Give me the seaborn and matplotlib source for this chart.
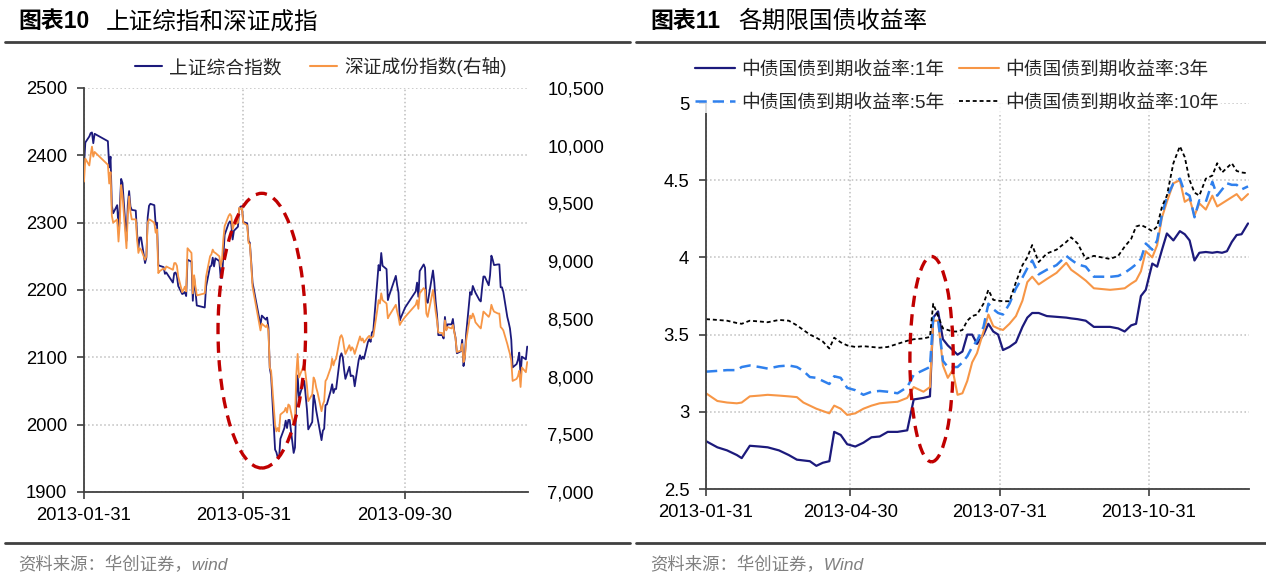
import matplotlib
matplotlib.use("Agg")
import matplotlib.pyplot as plt
import matplotlib.dates as mdates
from matplotlib.patches import Ellipse
from matplotlib.lines import Line2D
from matplotlib.ticker import FuncFormatter, MultipleLocator, FixedLocator
import seaborn as sns
import pandas as pd

# ---------------- data: left chart (index levels) ----------------
idx_dates = [
    "01-31", "02-01", "02-04", "02-05", "02-06", "02-07", "02-08", "02-18", "02-19", "02-20",
    "02-21", "02-22", "02-25", "02-26", "02-27", "02-28", "03-01", "03-04", "03-05", "03-06",
    "03-07", "03-08", "03-11", "03-12", "03-13", "03-14", "03-15", "03-18", "03-19", "03-20",
    "03-21", "03-22", "03-25", "03-26", "03-27", "03-28", "03-29", "04-01", "04-02", "04-03",
    "04-08", "04-09", "04-10", "04-11", "04-12", "04-15", "04-16", "04-17", "04-18", "04-19",
    "04-22", "04-23", "04-24", "04-25", "04-26", "05-02", "05-03", "05-06", "05-07", "05-08",
    "05-09", "05-10", "05-13", "05-14", "05-15", "05-16", "05-17", "05-20", "05-21", "05-22",
    "05-23", "05-24", "05-27", "05-28", "05-29", "05-30", "05-31", "06-03", "06-04", "06-05",
    "06-06", "06-07", "06-13", "06-14", "06-17", "06-18", "06-19", "06-20", "06-21", "06-24",
    "06-25", "06-26", "06-27", "06-28", "07-01", "07-02", "07-03", "07-04", "07-05", "07-08",
    "07-09", "07-10", "07-11", "07-12", "07-15", "07-16", "07-17", "07-18", "07-19", "07-22",
    "07-23", "07-24", "07-25", "07-26", "07-29", "07-30", "07-31", "08-01", "08-02", "08-05",
    "08-06", "08-07", "08-08", "08-09", "08-12", "08-13", "08-14", "08-15", "08-16", "08-19",
    "08-20", "08-21", "08-22", "08-23", "08-26", "08-27", "08-28", "08-29", "08-30", "09-02",
    "09-03", "09-04", "09-05", "09-06", "09-09", "09-10", "09-11", "09-12", "09-13", "09-16",
    "09-17", "09-18", "09-23", "09-24", "09-25", "09-26", "09-27", "09-30", "10-08", "10-09",
    "10-10", "10-11", "10-14", "10-15", "10-16", "10-17", "10-18", "10-21", "10-22", "10-23",
    "10-24", "10-25", "10-28", "10-29", "10-30", "10-31", "11-01", "11-04", "11-05", "11-06",
    "11-07", "11-08", "11-11", "11-12", "11-13", "11-14", "11-15", "11-18", "11-19", "11-20",
    "11-21", "11-22", "11-25", "11-26", "11-27", "11-28", "11-29", "12-02", "12-03", "12-04",
    "12-05", "12-06", "12-09", "12-10", "12-11", "12-12", "12-13", "12-16", "12-17", "12-18",
    "12-19", "12-20", "12-23", "12-24", "12-25", "12-26", "12-27", "12-30", "12-31",
]
sh_composite = [
    2385, 2419, 2428, 2433, 2434, 2418, 2432, 2421, 2382, 2398,
    2325, 2314, 2326, 2293, 2324, 2365, 2359, 2273, 2326, 2347,
    2324, 2319, 2318, 2283, 2263, 2278, 2278, 2240, 2248, 2308,
    2325, 2328, 2326, 2297, 2300, 2237, 2236, 2234, 2224, 2226,
    2211, 2225, 2226, 2221, 2206, 2194, 2195, 2197, 2191, 2245,
    2242, 2184, 2218, 2199, 2177, 2174, 2205, 2235, 2236, 2248,
    2235, 2247, 2243, 2218, 2218, 2251, 2282, 2299, 2302, 2298,
    2275, 2288, 2294, 2321, 2324, 2324, 2301, 2299, 2273, 2270,
    2242, 2211, 2148, 2162, 2156, 2159, 2144, 2084, 2073, 1963,
    1959, 1951, 1950, 1979, 1995, 2006, 1995, 2007, 2007, 1958,
    1966, 2038, 2073, 2040, 2060, 2065, 2044, 2023, 1993, 2004,
    2044, 2035, 2021, 2010, 1977, 1991, 1994, 2029, 2030, 2051,
    2060, 2047, 2053, 2053, 2101, 2106, 2100, 2082, 2068, 2086,
    2072, 2073, 2072, 2057, 2096, 2103, 2097, 2101, 2098, 2123,
    2127, 2123, 2137, 2139, 2212, 2237, 2229, 2255, 2236, 2231,
    2185, 2192, 2221, 2207, 2196, 2155, 2160, 2174, 2198, 2211,
    2190, 2228, 2238, 2233, 2184, 2181, 2193, 2229, 2211, 2183,
    2164, 2133, 2133, 2128, 2160, 2141, 2149, 2149, 2157, 2139,
    2129, 2106, 2109, 2126, 2087, 2100, 2135, 2197, 2193, 2206,
    2201, 2196, 2185, 2183, 2203, 2220, 2220, 2207, 2222, 2251,
    2245, 2237, 2238, 2238, 2204, 2204, 2197, 2160, 2152, 2143,
    2126, 2085, 2090, 2096, 2107, 2073, 2101, 2097, 2116,
]
sz_component = [
    9689, 9888, 9829, 9917, 9992, 9905, 9946, 9835, 9672, 9771,
    9392, 9333, 9362, 9170, 9333, 9660, 9567, 9112, 9392, 9561,
    9427, 9362, 9362, 9187, 9071, 9112, 9100, 9012, 9042, 9333,
    9362, 9357, 9333, 9246, 9275, 8896, 8913, 8937, 8925, 8954,
    8925, 8983, 8983, 8960, 8867, 8732, 8750, 8779, 8738, 9112,
    9071, 8721, 8878, 8779, 8703, 8721, 8867, 9042, 9059, 9100,
    9077, 9071, 9042, 8954, 9012, 9187, 9304, 9392, 9409, 9392,
    9275, 9316, 9333, 9462, 9450, 9462, 9333, 9310, 9158, 9147,
    8972, 8779, 8400, 8458, 8429, 8447, 8388, 8079, 8050, 7583,
    7525, 7554, 7525, 7671, 7700, 7729, 7688, 7758, 7747, 7583,
    7612, 8021, 8196, 7992, 8079, 8108, 8021, 7922, 7787, 7846,
    7992, 7968, 7904, 7863, 7700, 7758, 7787, 7962, 7980, 8079,
    8155, 8097, 8137, 8155, 8342, 8359, 8330, 8254, 8196, 8272,
    8225, 8254, 8237, 8196, 8312, 8348, 8312, 8330, 8295, 8342,
    8353, 8330, 8342, 8348, 8575, 8662, 8633, 8721, 8662, 8633,
    8505, 8528, 8622, 8563, 8517, 8447, 8470, 8517, 8622, 8662,
    8587, 8721, 8767, 8750, 8546, 8517, 8575, 8750, 8662, 8563,
    8487, 8382, 8377, 8353, 8487, 8400, 8429, 8417, 8447, 8388,
    8330, 8213, 8225, 8283, 8126, 8167, 8312, 8528, 8505, 8546,
    8517, 8470, 8429, 8417, 8487, 8563, 8552, 8517, 8546, 8622,
    8587, 8563, 8546, 8546, 8429, 8417, 8400, 8283, 8237, 8196,
    8137, 7962, 7980, 8003, 8050, 7910, 8079, 8038, 8126,
]

# ---------------- data: right chart (bond yields, %) ----------------
yield_dates = [
    "01-31", "02-07", "02-13", "02-19", "02-22", "02-27", "03-05", "03-10", "03-17", "03-23",
    "03-28", "04-01", "04-05", "04-09", "04-13", "04-17", "04-20", "04-24", "04-28", "05-03",
    "05-08", "05-13", "05-18", "05-23", "05-29", "06-04", "06-08", "06-14", "06-18", "06-20",
    "06-23", "06-26", "06-29", "07-02", "07-05", "07-08", "07-11", "07-14", "07-17", "07-21",
    "07-24", "07-27", "07-30", "08-02", "08-06", "08-10", "08-14", "08-17", "08-20", "08-24",
    "08-29", "09-04", "09-10", "09-13", "09-17", "09-22", "09-27", "10-02", "10-07", "10-12",
    "10-16", "10-20", "10-23", "10-26", "10-29", "11-02", "11-05", "11-08", "11-11", "11-15",
    "11-19", "11-22", "11-25", "11-28", "12-01", "12-05", "12-09", "12-12", "12-15", "12-18",
    "12-21", "12-24", "12-27", "12-31",
]
y1 = [
    2.81, 2.77, 2.75, 2.72, 2.70, 2.78, 2.775, 2.77, 2.75, 2.72,
    2.69, 2.685, 2.68, 2.65, 2.67, 2.68, 2.87, 2.85, 2.79, 2.775,
    2.80, 2.835, 2.84, 2.87, 2.87, 2.88, 3.08, 3.09, 3.10, 3.61,
    3.65, 3.47, 3.43, 3.40, 3.37, 3.39, 3.50, 3.50, 3.44, 3.50,
    3.57, 3.52, 3.50, 3.40, 3.42, 3.45, 3.55, 3.61, 3.64, 3.64,
    3.62, 3.615, 3.61, 3.605, 3.60, 3.59, 3.55, 3.55, 3.55, 3.54,
    3.52, 3.56, 3.57, 3.75, 3.79, 3.96, 3.94, 4.05, 4.155, 4.11,
    4.17, 4.15, 4.11, 3.98, 4.03, 4.035, 4.03, 4.035, 4.03, 4.04,
    4.10, 4.145, 4.15, 4.22,
]
y3 = [
    3.12, 3.07, 3.06, 3.055, 3.06, 3.10, 3.105, 3.11, 3.105, 3.10,
    3.095, 3.06, 3.04, 3.02, 3.005, 2.99, 3.04, 3.02, 2.98, 2.99,
    3.02, 3.04, 3.055, 3.06, 3.065, 3.09, 3.16, 3.13, 3.16, 3.59,
    3.59, 3.30, 3.22, 3.27, 3.11, 3.12, 3.20, 3.32, 3.38, 3.52,
    3.63, 3.555, 3.54, 3.53, 3.57, 3.62, 3.72, 3.84, 3.875, 3.825,
    3.86, 3.90, 3.965, 3.92, 3.89, 3.85, 3.80, 3.795, 3.79, 3.795,
    3.80, 3.83, 3.85, 3.91, 4.04, 4.00, 4.08, 4.26, 4.36, 4.48,
    4.50, 4.36, 4.38, 4.27, 4.35, 4.31, 4.40, 4.33, 4.35, 4.37,
    4.39, 4.41, 4.37, 4.41,
]
y5 = [
    3.26, 3.265, 3.27, 3.27, 3.29, 3.30, 3.29, 3.28, 3.295, 3.30,
    3.29, 3.265, 3.225, 3.22, 3.20, 3.18, 3.23, 3.22, 3.155, 3.14,
    3.11, 3.13, 3.135, 3.13, 3.12, 3.16, 3.24, 3.27, 3.29, 3.61,
    3.60, 3.33, 3.29, 3.29, 3.29, 3.32, 3.36, 3.42, 3.46, 3.55,
    3.70, 3.665, 3.64, 3.63, 3.70, 3.80, 3.87, 3.93, 3.98, 3.89,
    3.92, 3.95, 4.01, 3.985, 3.955, 3.94, 3.875, 3.875, 3.874, 3.88,
    3.90, 3.93, 3.955, 3.99, 4.09, 4.05, 4.11, 4.28, 4.39, 4.48,
    4.51, 4.42, 4.40, 4.26, 4.37, 4.36, 4.49, 4.40, 4.44, 4.48,
    4.47, 4.47, 4.44, 4.46,
]
y10 = [
    3.60, 3.595, 3.59, 3.575, 3.57, 3.59, 3.585, 3.58, 3.595, 3.59,
    3.56, 3.53, 3.50, 3.48, 3.455, 3.41, 3.48, 3.45, 3.43, 3.42,
    3.425, 3.42, 3.415, 3.42, 3.44, 3.46, 3.47, 3.475, 3.485, 3.70,
    3.62, 3.54, 3.53, 3.52, 3.52, 3.53, 3.59, 3.62, 3.63, 3.70,
    3.79, 3.725, 3.72, 3.716, 3.716, 3.84, 3.95, 4.00, 4.08, 3.97,
    4.025, 4.05, 4.10, 4.13, 4.09, 3.99, 4.01, 4.00, 3.99, 4.01,
    4.07, 4.12, 4.20, 4.21, 4.195, 4.17, 4.20, 4.33, 4.40, 4.61,
    4.72, 4.65, 4.50, 4.42, 4.40, 4.51, 4.53, 4.61, 4.55, 4.58,
    4.61, 4.56, 4.55, 4.545,
]

left_title_num = "图表10"
left_title_txt = "上证综指和深证成指"
right_title_num = "图表11"
right_title_txt = "各期限国债收益率"
left_source = "资料来源：华创证券，wind"
right_source = "资料来源：华创证券，Wind"
left_labels = ["上证综合指数", "深证成份指数(右轴)"]
right_labels = ["中债国债到期收益率:1年", "中债国债到期收益率:3年",
                "中债国债到期收益率:5年", "中债国债到期收益率:10年"]
left_xticks = ["2013-01-31", "2013-05-31", "2013-09-30"]
right_xticks = ["2013-01-31", "2013-04-30", "2013-07-31", "2013-10-31"]

# ---------------- styling ----------------
sns.set_theme(style="white")
plt.rcParams['font.family'] = ['Liberation Sans', 'Noto Sans CJK SC', 'DejaVu Sans']
plt.rcParams['axes.unicode_minus'] = False

NAVY = "#1C1A7C"
ORANGE = "#F79646"
BLUE = "#2F80ED"
RED = "#C00000"
GRID = "#BFBFBF"
SPINE = "#404040"
FS = 13.3

W, H = 1266, 588
fig = plt.figure(figsize=(W / 100, H / 100), dpi=100)
fig.patch.set_facecolor("white")

def fx(px):
    return px / W

def fy(py):
    return 1 - py / H

# ---------------- left chart ----------------
df_idx = pd.DataFrame({
    "date": pd.to_datetime(["2013-" + d for d in idx_dates]),
    "sh": sh_composite,
    "sz": sz_component,
})

ax1 = fig.add_axes([fx(84), fy(492), fx(528) - fx(84), fy(88) - fy(492)])
sns.lineplot(data=df_idx, x="date", y="sh", ax=ax1, color=NAVY, linewidth=1.3,
             legend=False)
ax2 = ax1.twinx()
sns.lineplot(data=df_idx, x="date", y="sz", ax=ax2, color=ORANGE, linewidth=1.3,
             legend=False)

ax1.set_xlim(mdates.date2num(pd.Timestamp("2013-01-31")), mdates.date2num(pd.Timestamp("2013-12-31")) + 0.6)
ax1.set_ylim(1900, 2500)
ax2.set_ylim(7000, 10500)
ax1.yaxis.set_major_locator(MultipleLocator(100))
ax2.yaxis.set_major_locator(MultipleLocator(500))
ax2.yaxis.set_major_formatter(FuncFormatter(lambda v, p: f"{int(v):,}"))
ax1.xaxis.set_major_locator(FixedLocator([mdates.date2num(pd.Timestamp(t)) for t in left_xticks]))
ax1.xaxis.set_major_formatter(mdates.DateFormatter("%Y-%m-%d"))
for a in (ax1, ax2):
    a.set_xlabel("")
    a.set_ylabel("")
    for s in a.spines.values():
        s.set_visible(False)
for s in ("left", "bottom"):
    ax1.spines[s].set_visible(True)
    ax1.spines[s].set_color(SPINE)
    ax1.spines[s].set_linewidth(1.3)
ax1.grid(True, linestyle=":", color=GRID, linewidth=1.1)
ax1.tick_params(axis="both", which="major", left=True, bottom=True, direction="out",
                length=5, width=1.2, color=SPINE, labelsize=FS, labelcolor="black")
ax1.tick_params(axis="y", pad=7)
ax1.tick_params(axis="x", pad=6)
ax2.tick_params(axis="y", right=False, length=0, pad=14, labelsize=FS, labelcolor="black")

ell1 = Ellipse((mdates.date2num(pd.Timestamp("2013-06-14")), 2139.6), 66, 408,
               fill=False, edgecolor=RED, linewidth=2.4, linestyle=(0, (3.4, 2.2)),
               transform=ax1.transData, zorder=10)
ax2.add_artist(ell1)

h1 = Line2D([], [], color=NAVY, linewidth=1.5)
h2 = Line2D([], [], color=ORANGE, linewidth=1.5)
fig.legend([h1, h2], left_labels, loc="center", bbox_to_anchor=(fx(321), fy(67)),
           ncol=2, frameon=False, fontsize=13.5, handlelength=1.45, handletextpad=0.4,
           columnspacing=1.5)

# ---------------- right chart ----------------
df_y = pd.DataFrame({
    "date": pd.to_datetime(["2013-" + d for d in yield_dates]),
    "y1": y1, "y3": y3, "y5": y5, "y10": y10,
})
ax3 = fig.add_axes([fx(706), fy(489), fx(1249) - fx(706), fy(103) - fy(489)])
sns.lineplot(data=df_y, x="date", y="y1", ax=ax3, color=NAVY, linewidth=1.6, legend=False)
sns.lineplot(data=df_y, x="date", y="y3", ax=ax3, color=ORANGE, linewidth=1.5, legend=False)
sns.lineplot(data=df_y, x="date", y="y5", ax=ax3, color=BLUE, linewidth=1.8, legend=False,
             linestyle=(0, (4.5, 2.4)))
sns.lineplot(data=df_y, x="date", y="y10", ax=ax3, color="black", linewidth=1.3, legend=False,
             linestyle=(0, (2.2, 1.6)))

ax3.set_xlim(mdates.date2num(pd.Timestamp("2013-01-31")), mdates.date2num(pd.Timestamp("2013-12-31")) + 0.6)
ax3.set_ylim(2.5, 5.0)
ax3.yaxis.set_major_locator(MultipleLocator(0.5))
ax3.yaxis.set_major_formatter(FuncFormatter(lambda v, p: f"{v:g}"))
ax3.xaxis.set_major_locator(FixedLocator([mdates.date2num(pd.Timestamp(t)) for t in right_xticks]))
ax3.xaxis.set_major_formatter(mdates.DateFormatter("%Y-%m-%d"))
ax3.set_xlabel("")
ax3.set_ylabel("")
for s in ax3.spines.values():
    s.set_visible(False)
for s in ("left", "bottom"):
    ax3.spines[s].set_visible(True)
    ax3.spines[s].set_color(SPINE)
    ax3.spines[s].set_linewidth(1.3)
ax3.grid(True, linestyle=":", color=GRID, linewidth=1.1)
ax3.tick_params(axis="both", which="major", left=True, bottom=True, direction="out",
                length=5, width=1.2, color=SPINE, labelsize=FS, labelcolor="black")
ax3.tick_params(axis="y", pad=7)
ax3.tick_params(axis="x", pad=6)

ell2 = Ellipse((mdates.date2num(pd.Timestamp("2013-06-19")), 3.341), 26.7, 1.33,
               fill=False, edgecolor=RED, linewidth=2.4, linestyle=(0, (3.4, 2.2)),
               transform=ax3.transData, zorder=10)
ax3.add_artist(ell2)

rh = [Line2D([], [], color=NAVY, linewidth=1.6),
      Line2D([], [], color=BLUE, linewidth=1.8, linestyle=(0, (4.5, 2.4))),
      Line2D([], [], color=ORANGE, linewidth=1.5),
      Line2D([], [], color="black", linewidth=1.3, linestyle=(0, (2.2, 1.6)))]
rl = [right_labels[0], right_labels[2], right_labels[1], right_labels[3]]
leg = fig.legend(rh, rl, loc="center", bbox_to_anchor=(fx(957), fy(86.5)), ncol=2,
                 frameon=True, fontsize=13.5, handlelength=2.1, handletextpad=0.35,
                 columnspacing=0.8, labelspacing=0.8, borderpad=0.1)
leg.get_frame().set_facecolor("white")
leg.get_frame().set_edgecolor("white")
leg.get_frame().set_linewidth(0)

# ---------------- titles, rules, sources ----------------
fig.text(fx(18), fy(22), left_title_num, fontsize=16.5, va="center", ha="left",
         color="black", fontweight="bold")
fig.text(fx(106), fy(22), left_title_txt, fontsize=17, va="center", ha="left", color="black")
fig.text(fx(650), fy(22), right_title_num, fontsize=16.5, va="center", ha="left",
         color="black", fontweight="bold")
fig.text(fx(738), fy(22), right_title_txt, fontsize=17, va="center", ha="left", color="black")
for x0, x1 in ((5, 630), (636, 1266)):
    fig.add_artist(Line2D([fx(x0), fx(x1)], [fy(42), fy(42)], color=SPINE, linewidth=2))
    fig.add_artist(Line2D([fx(x0), fx(x1)], [fy(543), fy(543)], color=SPINE, linewidth=2))
fig.text(fx(18), fy(565), left_source, fontsize=12.5, va="center", ha="left",
         color="#808080", style="italic")
fig.text(fx(650), fy(565), right_source, fontsize=12.5, va="center", ha="left",
         color="#808080", style="italic")

fig.savefig("out.png", dpi=100, facecolor="white")
